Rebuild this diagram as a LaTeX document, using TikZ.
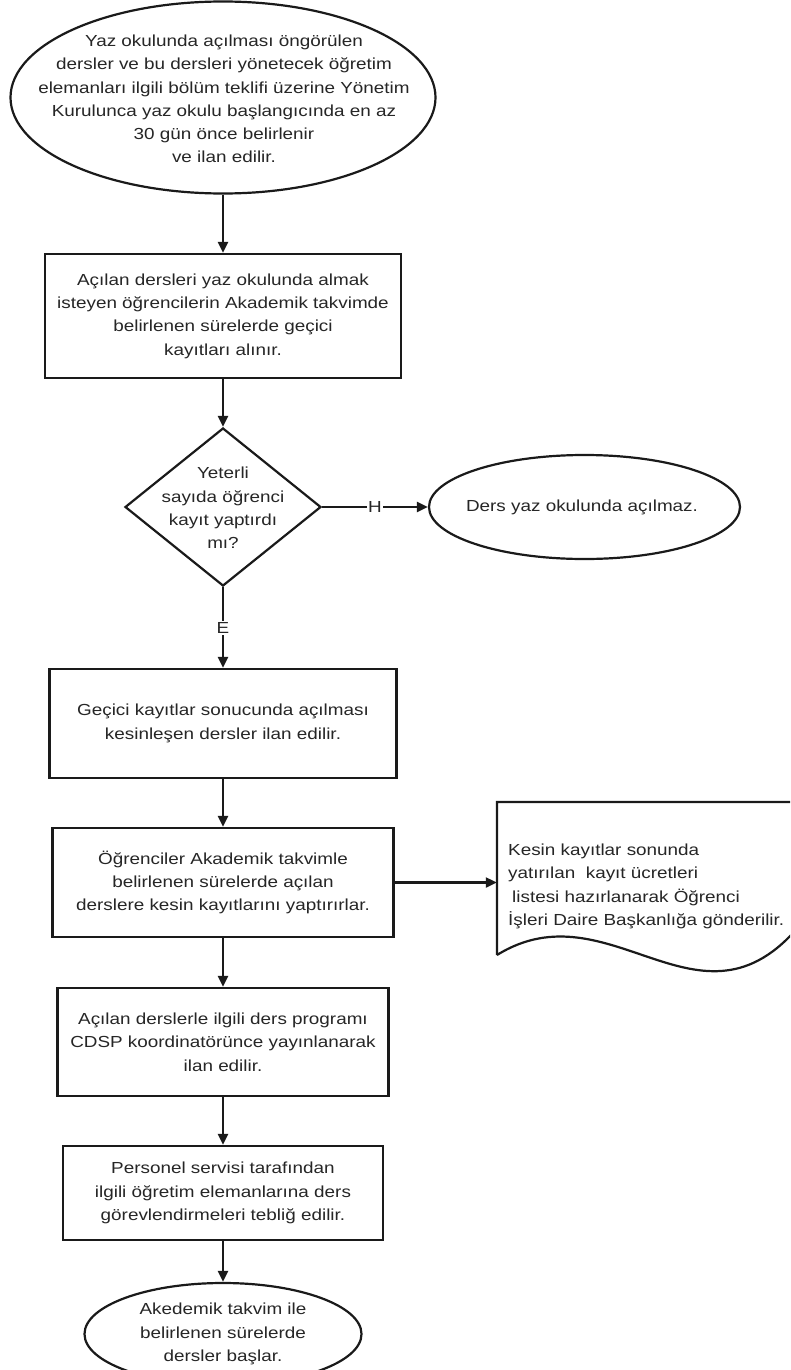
\documentclass[tikz,border=0pt]{standalone}
\usepackage{fontspec}
\setmainfont{Liberation Sans}[FakeStretch=1.18]
\usetikzlibrary{shapes.geometric,arrows.meta}
\definecolor{ink}{HTML}{1A1A1A}
\definecolor{txt}{HTML}{262626}
\newcommand\flowfont{\fontsize{16pt}{23.3pt}\selectfont}
\tikzset{
  outline/.style={draw=ink, line width=2.2pt, fill=white, inner sep=0pt},
  procbox/.style={outline, rectangle, align=center, text=txt, font=\flowfont},
  ovalbox/.style={outline, ellipse},
  decbox/.style={outline, diamond},
  lbl/.style={text=txt, align=center, font=\flowfont, inner sep=0pt},
  conn/.style={draw=ink, line width=2.2pt, -{Triangle[length=11pt,width=10pt]}},
  yn/.style={fill=white, inner sep=1.5pt, text=txt, font=\flowfont}
}
\begin{document}
\begin{tikzpicture}[x=1pt,y=-1pt]
\useasboundingbox (0,0) rectangle (790,1370);
\clip (0,0) rectangle (790,1370);
\fill[white] (0,0) rectangle (790,1370);

% top ellipse
\node[ovalbox, minimum width=425pt, minimum height=192pt] (e1) at (223,97.5) {};
\node[lbl] (e1t) at (224,99) {Yaz okulunda açılması öngörülen\\dersler ve bu dersleri yönetecek öğretim\\elemanları ilgili bölüm teklifi üzerine Yönetim\\Kurulunca yaz okulu başlangıcında en az\\30 gün önce belirlenir\\ve ilan edilir.};

% process 2
\node[procbox, minimum width=356pt, minimum height=124pt] (r2) at (223,316) {Açılan dersleri yaz okulunda almak\\isteyen öğrencilerin Akademik takvimde\\belirlenen sürelerde geçici\\kayıtları alınır.};

% decision
\node[decbox, minimum width=196pt, minimum height=158pt] (d) at (223,507) {};
\node[lbl] (dt) at (223,508) {Yeterli\\sayıda öğrenci\\kayıt yaptırdı\\mı?};

% no-branch ellipse
\node[ovalbox, minimum width=311pt, minimum height=104pt] (e2) at (584.5,507) {};
\node[lbl] (e2t) at (582,507) {Ders yaz okulunda açılmaz.};

% processes
\node[procbox, minimum width=347pt, minimum height=109pt] (r3) at (223,723.5) {Geçici kayıtlar sonucunda açılması\\kesinleşen dersler ilan edilir.};
\node[procbox, minimum width=341pt, minimum height=109pt] (r4) at (223,882.5) {Öğrenciler Akademik takvimle\\belirlenen sürelerde açılan\\derslere kesin kayıtlarını yaptırırlar.};
\node[procbox, minimum width=331pt, minimum height=108pt] (r5) at (223,1042) {Açılan derslerle ilgili ders programı\\CDSP koordinatörünce yayınlanarak\\ilan edilir.};
\node[procbox, minimum width=320pt, minimum height=94pt] (r6) at (223,1193) {Personel servisi tarafından\\ilgili öğretim elemanlarına ders\\görevlendirmeleri tebliğ edilir.};

% final ellipse
\node[ovalbox, minimum width=277pt, minimum height=102pt] (e3) at (223,1334) {};
\node[lbl] (e3t) at (223,1334) {Akedemik takvim ile\\belirlenen sürelerde\\dersler başlar.};

% document shape
\draw[draw=ink, line width=2.2pt, fill=white, line join=miter]
  (497,955) -- (497,802) -- (800,802) -- (800,925)
  .. controls (700,1045) and (610,885) .. (497,955);
\node[minimum width=303pt, minimum height=153pt, inner sep=0pt] (doc) at (648.5,878.5) {};
\node[lbl, anchor=west, align=left] (doct) at (508,886.5) {Kesin kayıtlar sonunda\\yatırılan\ \ kayıt ücretleri\\\hspace*{4pt}listesi hazırlanarak Öğrenci\\İşleri Daire Başkanlığa gönderilir.};

% connectors
\draw[conn] (e1) -- (r2);
\draw[conn] (r2) -- (d);
\draw[conn] (d) -- node[yn] (hl) {H} (e2);
\draw[conn] (d) -- node[yn] (el) {E} (r3);
\draw[conn] (r3) -- (r4);
\draw[conn] (r4) -- (r5);
\draw[conn] (r5) -- (r6);
\draw[conn] (r6) -- (e3);
\draw[conn] (r4.east) -- (r4.east -| doc.west);
\end{tikzpicture}
\end{document}
